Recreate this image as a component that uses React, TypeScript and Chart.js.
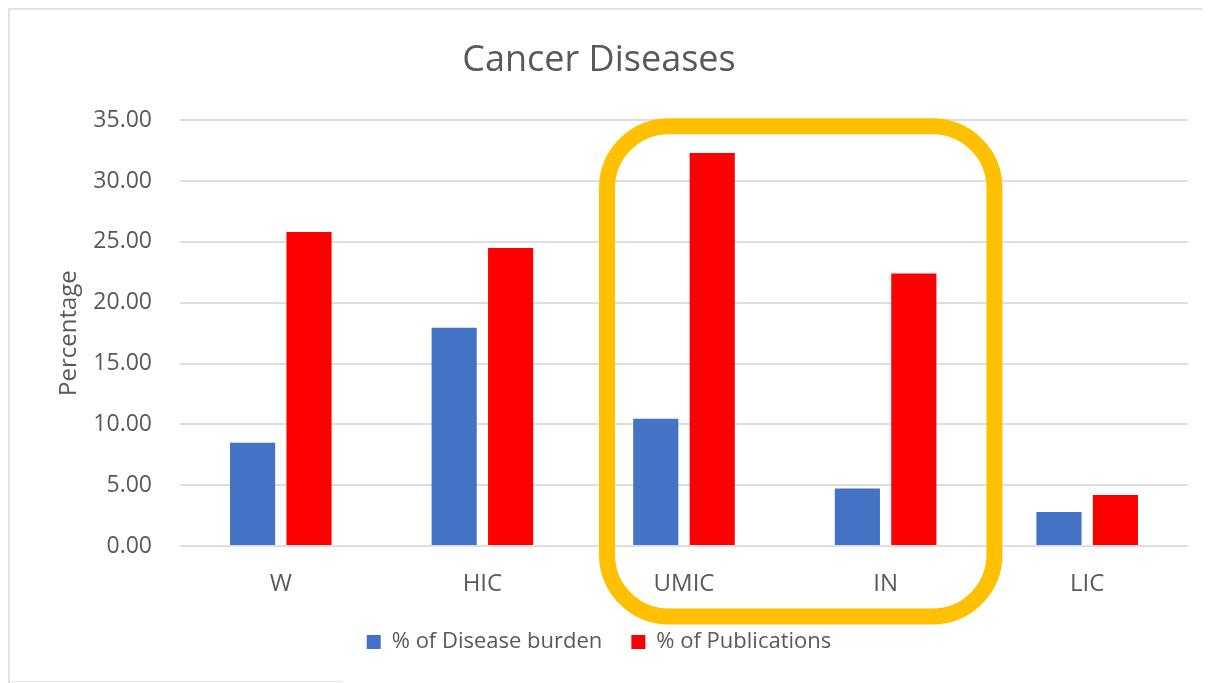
import React, { useEffect, useRef } from "react";
import { Chart, registerables } from "chart.js";

Chart.register(...registerables);

const categories = ["W", "HIC", "UMIC", "IN", "LIC"];
const diseaseBurden = [8.48, 17.95, 10.45, 4.72, 2.8];
const publications = [25.8, 24.5, 32.3, 22.4, 4.2];
const seriesNames = ["% of Disease burden", "% of Publications"];
const highlightFrom = 2; // UMIC
const highlightTo = 3; // IN

const TEXT = "#595959";
const FONT = "'Open Sans', sans-serif";

const highlightPlugin = {
  id: "highlightBox",
  afterDraw(chart: any) {
    const x = chart.scales.x;
    const y = chart.scales.y;
    const cat = (chart.chartArea.right - chart.chartArea.left) / categories.length;
    const left = x.getPixelForValue(highlightFrom) - 0.382 * cat;
    const right = x.getPixelForValue(highlightTo) + 0.54 * cat;
    const top = y.getPixelForValue(34.5);
    const bottom = y.getPixelForValue(-5.8);
    const r = 62;
    const ctx = chart.ctx;
    ctx.save();
    ctx.strokeStyle = "#FFC000";
    ctx.lineWidth = 16;
    ctx.beginPath();
    ctx.roundRect(left, top, right - left, bottom - top, r);
    ctx.stroke();
    ctx.restore();
  },
};

export default function App() {
  const ref = useRef<HTMLCanvasElement>(null);
  useEffect(() => {
    if (!ref.current) return;
    const chart = new Chart(ref.current, {
      type: "bar",
      data: {
        labels: categories,
        datasets: [
          { label: seriesNames[0], data: diseaseBurden, backgroundColor: "#4472C4" },
          { label: seriesNames[1], data: publications, backgroundColor: "#FF0000" },
        ],
      },
      options: {
        animation: false,
        responsive: false,
        devicePixelRatio: 1,
        layout: { padding: { left: 0, right: 23, top: 10, bottom: 20 } },
        datasets: { bar: { categoryPercentage: 0.56, barPercentage: 0.8 } },
        plugins: {
          title: {
            display: true,
            text: "Cancer Diseases",
            color: TEXT,
            font: { family: FONT, size: 36, weight: "normal" },
            padding: { top: 19, bottom: 38 },
          },
          legend: {
            position: "bottom",
            labels: {
              color: TEXT,
              font: { family: FONT, size: 22 },
              boxWidth: 14,
              boxHeight: 14,
              padding: 29,
            },
          },
          tooltip: { enabled: false },
        },
        scales: {
          x: {
            afterFit: (s: any) => { s.height = 56; },
            grid: { display: false, drawTicks: false },
            border: { display: false },
            ticks: { color: TEXT, font: { family: FONT, size: 24 }, padding: 24 },
          },
          y: {
            min: 0,
            max: 35,
            afterFit: (s: any) => { s.width = 170; },
            ticks: {
              stepSize: 5,
              color: TEXT,
              font: { family: FONT, size: 23 },
              padding: 28,
              callback: (v: any) => Number(v).toFixed(2),
            },
            grid: { color: "#dedede", lineWidth: 2, drawTicks: false },
            border: { display: false },
            title: {
              display: true,
              text: "Percentage",
              color: TEXT,
              font: { family: FONT, size: 24 },
              padding: { top: 45, bottom: 0 },
            },
          },
        },
      },
      plugins: [highlightPlugin],
    });
    return () => chart.destroy();
  }, []);
  return (
    <div style={{ position: "relative" }}>
      <div
        style={{
          width: 1201,
          height: 673,
          borderTop: "2px solid #e2e2e2",
          borderLeft: "2px solid #e2e2e2",
          background: "#fff",
        }}
      >
        <canvas ref={ref} width={1201} height={673} style={{ display: "block" }} />
      </div>
      <div
        style={{
          position: "absolute",
          left: 0,
          top: 673,
          width: 335,
          height: 1,
          background: "#e6e6e6",
        }}
      />
    </div>
  );
}
